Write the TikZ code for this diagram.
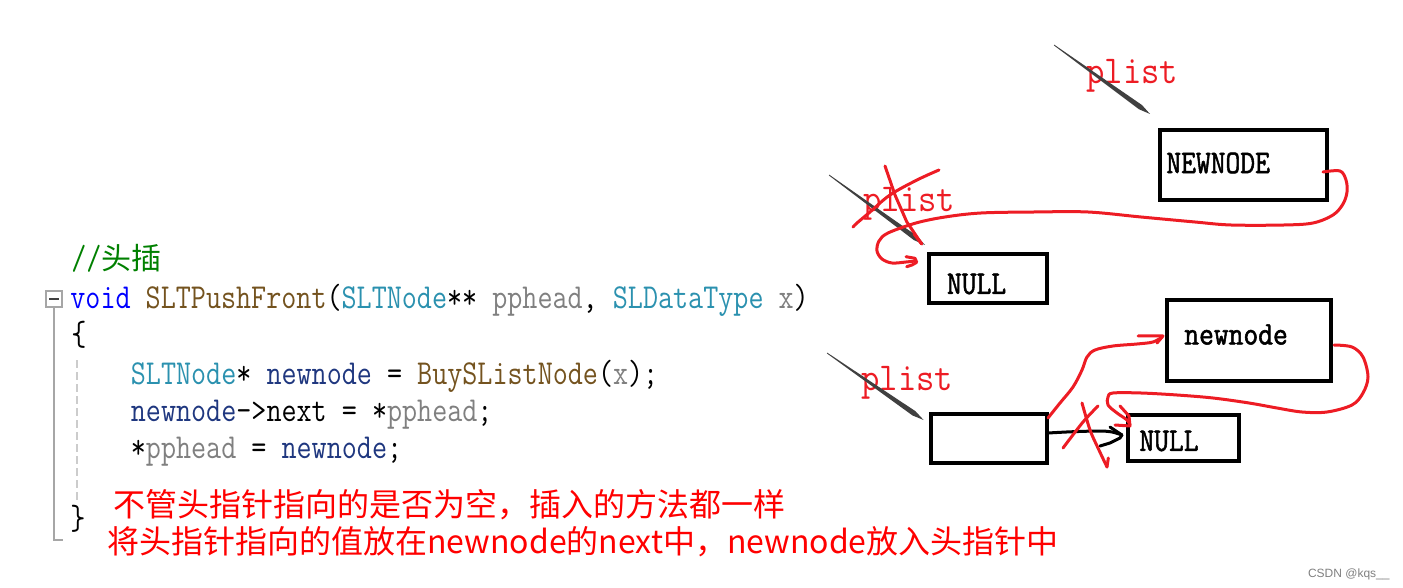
\documentclass[tikz,border=0pt]{standalone}
\usepackage{fontspec}
\newfontfamily\codefont[FakeStretch=0.836]{Latin Modern Mono}
\newfontfamily\boxfont[FakeStretch=0.87, FakeBold=1.6]{Latin Modern Mono}
\newfontfamily\plistfont[FakeStretch=0.9]{Latin Modern Mono}
\newfontfamily\cjkfont{Noto Sans CJK SC}
\newfontfamily\wmfont{Liberation Sans}
\usetikzlibrary{calc, positioning}

\definecolor{kw}{RGB}{0,0,255}      % keyword
\definecolor{fn}{RGB}{116,83,31}    % function
\definecolor{ty}{RGB}{43,145,175}   % type
\definecolor{prm}{RGB}{128,128,128} % parameter
\definecolor{var}{RGB}{31,55,127}   % local
\definecolor{cmt}{RGB}{0,128,0}     % comment
\definecolor{paintred}{RGB}{237,28,36}
\definecolor{pencil}{RGB}{64,64,64}

\begin{document}
\begin{tikzpicture}[x=0.5pt,y=-0.5pt,
  box/.style={draw, line width=2pt, inner sep=0pt},
  boxtext/.style={inner sep=0pt, font=\boxfont\fontsize{16.5pt}{20pt}\selectfont},
  code/.style={anchor=base west, inner sep=0pt, font=\codefont\fontsize{17.5pt}{20pt}\selectfont},
  plist/.style={anchor=base west, inner sep=0pt, text=paintred, font=\plistfont\fontsize{19.75pt}{24pt}\selectfont},
  note/.style={anchor=base west, inner sep=0pt, text=red, font=\cjkfont\fontsize{16pt}{18pt}\selectfont},
  redpen/.style={paintred, line width=1.5pt, line cap=round, line join=round},
  blackpen/.style={black, line width=1.5pt, line cap=round, line join=round}]
  \useasboundingbox (0,0) rectangle (1403,588);

  % 代码
  \node(cmtline) at (71,270) [code, text=cmt]{//{\cjkfont\fontsize{15pt}{18pt}\selectfont 头插}};
  \node(fold) at (54.2,299.2) [draw=gray!70, line width=1pt, minimum size=8pt, inner sep=0pt]{};
  \draw[pencil, line width=1.1pt] ($(fold.center)+(-5,0)$) -- ($(fold.center)+(5,0)$); % 折叠
  \draw[gray!70, line width=1.1pt] (fold.south) |- (63,540);
  \draw[gray!40, line width=0.7pt, dash pattern=on 4pt off 2pt] (77,360) -- (77,503);
  \node(l1) at (70,308) [code]{\textcolor{kw}{void} \textcolor{fn}{SLTPushFront}(\textcolor{ty}{SLTNode}** \textcolor{prm}{pphead}, \textcolor{ty}{SLDataType} \textcolor{prm}{x})};
  \node(l2) at (71,345) [code]{\{};
  \node(l3) at (130.5,384) [code]{\textcolor{ty}{SLTNode}* \textcolor{var}{newnode} = \textcolor{fn}{BuySListNode}(\textcolor{prm}{x});};
  \node(l4) at (130.5,421) [code]{\textcolor{var}{newnode}->next = *\textcolor{prm}{pphead};};
  \node(l5) at (130.5,458) [code]{*\textcolor{prm}{pphead} = \textcolor{var}{newnode};};
  \node(l6) at (70,529) [code]{\}};

  % 说明
  \node(note1) at (113,516) [note]{不管头指针指向的是否为空，插入的方法都一样};
  \node(note2) at (107,553) [note]{将头指针指向的值放在newnode的next中，newnode放入头指针中};

  % 方框
  \node(NEWNODE) at (1243.25,165) [box, minimum width=83.75pt, minimum height=35pt]{};
  \node(NEWNODEtxt) [boxtext, right=4.25pt of NEWNODE.west, yshift=1pt]{NEWNODE};
  \node(null1) at (988,278.5) [box, minimum width=59pt, minimum height=24.5pt]{};
  \node(null1txt) [boxtext, right=9.8pt of null1.west, yshift=-2.75pt]{NULL};
  \node(newnode) at (1248.5,340.5) [box, minimum width=82pt, minimum height=40.5pt]{};
  \node(newnodetxt) [boxtext, right=9.7pt of newnode.west, yshift=3pt]{newnode};
  \node(head) at (988.8,438.5) [box, minimum width=57.8pt, minimum height=24.5pt]{};
  \node(null2) at (1183.5,438) [box, minimum width=55.5pt, minimum height=23pt]{};
  \node(null2txt) [boxtext, right=6.5pt of null2.west, yshift=-1.5pt]{NULL};

  % plist
  \node(plist1) at (1086,84) [plist]{plist};
  \node(plist2) at (863,212) [plist]{plist};
  \node(plist3) at (861,390) [plist]{plist};

  % 铅笔箭头
  \def\taper#1#2{%
    \path ($(#1)!0.9!(#2)$) coordinate (tmp);
    \fill[pencil] ($(#1)!0.2pt!90:(#2)$) -- ($(tmp)!1.3pt!-90:(#1)$) -- (#2)
      -- ($(tmp)!1.3pt!90:(#1)$) -- ($(#1)!0.2pt!-90:(#2)$) -- cycle;}
  \coordinate (p1) at (1054,45);  \coordinate (q1) at (1150,114);
  \coordinate (p2) at (829,175);  \coordinate (q2) at (925,245);
  \coordinate (p3) at (827,353);  \coordinate (q3) at (923.6,420);
  \taper{p1}{q1}
  \taper{p2}{q2}
  \taper{p3}{q3}

  % 上: NEWNODE -> NULL
  \draw[redpen] ($(NEWNODE.east)+(-4,7)$) coordinate (sA) plot[smooth, tension=0.55] coordinates {(1323,172) (1340,171) (1346,180) (1347,192) (1343,204) (1333,215) (1313,223) (1284,225) (1231,225) (1195,222) (1141,217) (1088,212) (1034,212) (981,213) (945,217) (916,223) (888,233) (879,241) (877,251) (882,259) (892,263) (906,262) (915,261)};
  \draw[redpen] (906,256.7) -- (915,258.3) -- (916.7,262.3) -- (912,265) -- (906.7,266.7);
  % 划掉的 plist
  \draw[redpen] (885,166) -- (895,195) -- (906.7,221.7) -- (921.7,244);
  \draw[redpen] (914,234) -- (921.7,244);
  \draw[redpen] plot[smooth, tension=0.6] coordinates {(939,170) (917,180) (890,195) (870,212) (857,223) (853,227)};

  % 下: head -> newnode -> NULL
  \draw[redpen] plot[smooth, tension=0.55] coordinates {(1048,418) (1060,403) (1073,387) (1082,370) (1087,357) (1095,350) (1113,346) (1137,344) (1153,342) (1162,337)};
  \draw[redpen] (1138,336) -- (1163,336) -- (1157,343);
  \draw[redpen] plot[smooth, tension=0.55] coordinates {(1334,345) (1352,347) (1363,357) (1368,377) (1363,393) (1352,405) (1327,412) (1302,412) (1277,408) (1249,403) (1213,398) (1177,395) (1141,393) (1113,393) (1108,397) (1108,405) (1117,413) (1127,420) (1130,425)};
  \draw[redpen] (1120,406) -- (1129,416) -- (1130,426) -- (1115,425);
  \draw[blackpen] plot[smooth, tension=0.5] coordinates {(1048,433) (1073,431.7) (1100,431) (1112,432) (1122,435)};
  \draw[blackpen] (1110,427) -- (1122,435) -- (1120,438) -- (1110,443) -- (1100,446);
  % 划掉
  \draw[redpen] plot[smooth, tension=0.5] coordinates {(1082,403) (1090,430) (1098,448) (1107,467)};
  \draw[redpen] (1108.3,458) -- (1107,467);
  \draw[redpen] plot[smooth, tension=0.5] coordinates {(1098,406) (1083,422) (1063,448)};

  \node(wm) at (1390,574) [anchor=east, inner sep=0pt, text=gray, font=\wmfont\fontsize{6pt}{7pt}\selectfont]{CSDN @kqs\_\_};
\end{tikzpicture}
\end{document}
